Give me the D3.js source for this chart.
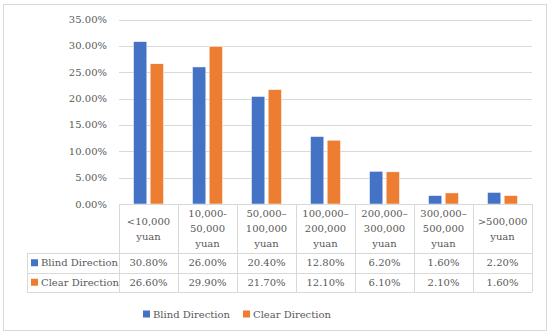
<!DOCTYPE html>
<html>
<head>
<meta charset="utf-8">
<script src="https://cdn.jsdelivr.net/npm/d3@7"></script>
<style>
  body { margin: 0; background: #fff; }
</style>
</head>
<body>
<script>
var categories = [["<10,000", "yuan"], ["10,000-", "50,000", "yuan"], ["50,000–", "100,000", "yuan"],
  ["100,000–", "200,000", "yuan"], ["200,000–", "300,000", "yuan"], ["300,000–", "500,000", "yuan"],
  [">500,000", "yuan"]];
var seriesNames = ["Blind Direction", "Clear Direction"];
var blind = [30.8, 26.0, 20.4, 12.8, 6.2, 1.6, 2.2];
var clear = [26.6, 29.9, 21.7, 12.1, 6.1, 2.1, 1.6];
var yTicks = [0, 5, 10, 15, 20, 25, 30, 35];
var colors = ["#4472C4", "#ED7D31"];

var width = 550, height = 335;
var svg = d3.select("body").append("svg")
  .attr("width", width)
  .attr("height", height)
  .style("font-family", "'DejaVu Serif'")
  .style("font-size", "10px");

// outer frame
svg.append("rect")
  .attr("x", 3.5).attr("y", 4.5)
  .attr("width", 543).attr("height", 326)
  .attr("fill", "#fff")
  .attr("stroke", "#d9d9d9");

var plotLeft = 119, plotRight = 532, plotTop = 19.5, plotBottom = 204;
var idx = d3.range(categories.length);

var x0 = d3.scaleBand().domain(idx).range([plotLeft, plotRight]);
var x1 = d3.scaleBand().domain([0, 1]).range([14.5, 44.5]).paddingInner(0.2);
var y = d3.scaleLinear().domain([0, 35]).range([plotBottom, plotTop]);

// gridlines
svg.append("g").selectAll("line")
  .data(yTicks.slice(1))
  .enter().append("line")
  .attr("x1", plotLeft).attr("x2", plotRight)
  .attr("y1", d => Math.round(y(d)) + 0.5)
  .attr("y2", d => Math.round(y(d)) + 0.5)
  .attr("stroke", "#d9d9d9");

// y labels
svg.append("g").selectAll("text")
  .data(yTicks)
  .enter().append("text")
  .attr("x", 107)
  .attr("y", d => y(d))
  .attr("dy", "0.35em")
  .attr("text-anchor", "end")
  .attr("fill", "#595959")
  .text(d => d.toFixed(2) + "%");

// bars
var series = [blind, clear];
var groups = svg.append("g").selectAll("g")
  .data(series)
  .enter().append("g")
  .attr("fill", (d, i) => colors[i]);

groups.each(function(vals, s) {
  d3.select(this).selectAll("rect")
    .data(vals)
    .enter().append("rect")
    .attr("x", (d, i) => x0(i) + x1(s))
    .attr("y", d => y(d))
    .attr("width", x1.bandwidth())
    .attr("height", d => y(0) - y(d))
    .attr("stroke", "#fff")
    .attr("stroke-width", 0.5);
});

// data table
var rowTop = [plotBottom, 253, 272.5, 292];
var tableLeft = 27;
var grid = svg.append("g").attr("stroke", "#d9d9d9").attr("fill", "none");

grid.append("line").attr("x1", plotLeft).attr("x2", plotRight).attr("y1", plotBottom + 0.5).attr("y2", plotBottom + 0.5);
rowTop.slice(1).forEach(function(r) {
  grid.append("line").attr("x1", tableLeft).attr("x2", plotRight)
    .attr("y1", Math.round(r) + 0.5).attr("y2", Math.round(r) + 0.5);
});
idx.concat([categories.length]).forEach(function(i) {
  var xx = i < categories.length ? x0(i) : plotRight;
  grid.append("line")
    .attr("x1", Math.round(xx) + 0.5).attr("x2", Math.round(xx) + 0.5)
    .attr("y1", plotBottom).attr("y2", rowTop[3]);
});
grid.append("line").attr("x1", tableLeft + 0.5).attr("x2", tableLeft + 0.5)
  .attr("y1", rowTop[1]).attr("y2", rowTop[3]);

// category headers
var headers = svg.append("g").selectAll("text")
  .data(categories)
  .enter().append("text")
  .attr("text-anchor", "middle")
  .attr("fill", "#595959")
  .attr("transform", (d, i) => "translate(" + (x0(i) + x0.bandwidth() / 2) + "," + ((plotBottom + rowTop[1]) / 2 - (d.length - 1) * 7.5) + ")");

headers.selectAll("tspan")
  .data(d => d)
  .enter().append("tspan")
  .attr("x", 0)
  .attr("y", (d, i) => i * 15)
  .attr("dy", "0.35em")
  .text(d => d);

// value rows
series.forEach(function(vals, s) {
  var cy = (rowTop[s + 1] + rowTop[s + 2]) / 2;
  var row = svg.append("g").attr("fill", "#595959");
  row.append("rect")
    .attr("x", 31).attr("y", cy - 3.5)
    .attr("width", 7).attr("height", 7)
    .attr("fill", colors[s]);
  row.append("text")
    .attr("x", 41).attr("y", cy).attr("dy", "0.35em")
    .text(seriesNames[s]);
  row.selectAll(".v")
    .data(vals)
    .enter().append("text")
    .attr("x", (d, i) => x0(i) + x0.bandwidth() / 2)
    .attr("y", cy).attr("dy", "0.35em")
    .attr("text-anchor", "middle")
    .text(d => d.toFixed(2) + "%");
});

// legend
var legend = svg.append("g").attr("fill", "#595959").selectAll("g")
  .data(seriesNames)
  .enter().append("g")
  .attr("transform", (d, i) => "translate(" + (143 + i * 100) + ",314)");
legend.append("rect")
  .attr("x", 0).attr("y", -3.5)
  .attr("width", 7).attr("height", 7)
  .attr("fill", (d, i) => colors[i]);
legend.append("text")
  .attr("x", 10).attr("dy", "0.35em")
  .text(d => d);
</script>
</body>
</html>
